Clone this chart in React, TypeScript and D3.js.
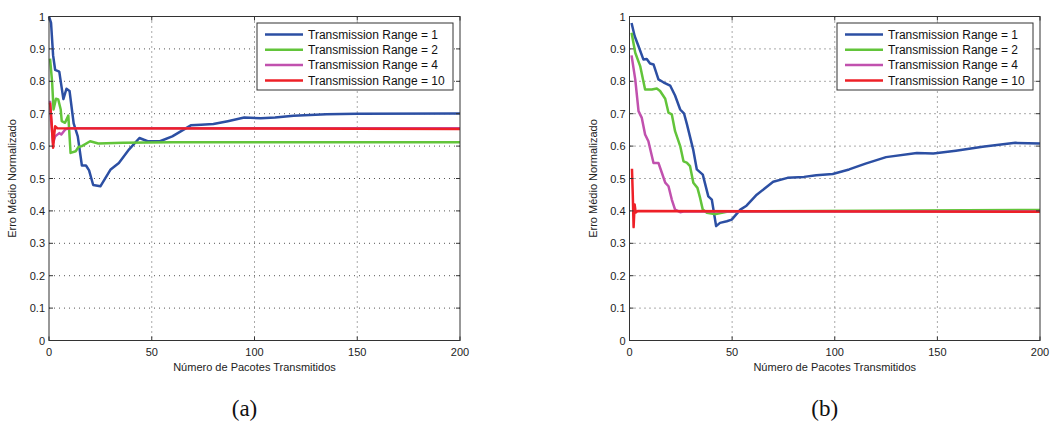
import React from "react";
import * as d3 from "d3";

type Pt = [number, number];

// x ticks / y ticks
const xTicks = [0, 50, 100, 150, 200];
const yTicks = [0, 0.1, 0.2, 0.3, 0.4, 0.5, 0.6, 0.7, 0.8, 0.9, 1];

const seriesNames = [
  "Transmission Range = 1",
  "Transmission Range = 2",
  "Transmission Range = 4",
  "Transmission Range = 10",
];
const seriesColors = ["#2c4fa3", "#62c43a", "#c151ae", "#ee2027"];

// painel (a)
const aRange1: Pt[] = [[0, 1.0], [1, 0.98], [2, 0.88], [3, 0.835], [5, 0.83], [7, 0.745], [8.5, 0.777], [10, 0.77], [12, 0.67], [14, 0.63], [16, 0.54], [18, 0.54], [19.5, 0.525], [21.5, 0.48], [25, 0.476], [30, 0.528], [34, 0.548], [39, 0.59], [44, 0.625], [48, 0.615], [54, 0.615], [60, 0.63], [69, 0.664], [74, 0.666], [80, 0.668], [87, 0.677], [95, 0.688], [103, 0.686], [110, 0.688], [119, 0.694], [135, 0.698], [150, 0.7], [200, 0.701]];
const aRange2: Pt[] = [[0.5, 0.87], [1.5, 0.8], [2.2, 0.713], [3.4, 0.746], [4.5, 0.744], [5.7, 0.713], [6.2, 0.677], [7.8, 0.672], [9.4, 0.694], [10.5, 0.579], [13, 0.584], [14.3, 0.597], [16, 0.6], [20, 0.615], [24, 0.608], [36, 0.61], [60, 0.612], [200, 0.612]];
const aRange4: Pt[] = [[0.5, 0.74], [1, 0.68], [2, 0.61], [3, 0.63], [5, 0.64], [6, 0.636], [8, 0.652], [10, 0.655], [200, 0.655]];
const aRange10: Pt[] = [[0.5, 0.734], [1.2, 0.68], [2, 0.595], [2.6, 0.64], [3, 0.661], [4, 0.655], [200, 0.653]];

// painel (b)
const bRange1: Pt[] = [[1, 0.98], [2.5, 0.94], [4.4, 0.908], [6.8, 0.867], [8.4, 0.869], [10, 0.855], [11.7, 0.852], [14.1, 0.806], [16.5, 0.797], [19.8, 0.787], [22.2, 0.756], [24.7, 0.713], [26.6, 0.7], [28, 0.667], [31, 0.59], [32.8, 0.528], [35.7, 0.512], [38.4, 0.445], [40.1, 0.435], [42.2, 0.353], [44.1, 0.363], [47.4, 0.368], [49.8, 0.373], [54, 0.404], [57, 0.416], [62, 0.45], [66, 0.47], [70, 0.49], [77, 0.502], [85, 0.505], [91, 0.51], [99, 0.514], [107, 0.528], [115, 0.546], [125, 0.566], [140, 0.579], [148, 0.577], [159, 0.586], [172, 0.598], [188, 0.61], [200, 0.608]];
const bRange2: Pt[] = [[1, 0.95], [2.8, 0.888], [5.2, 0.847], [7.6, 0.775], [10.9, 0.775], [13.3, 0.778], [14.9, 0.77], [17.4, 0.746], [19, 0.703], [20.6, 0.698], [22.2, 0.646], [24.7, 0.6], [26.3, 0.553], [27.9, 0.549], [29.5, 0.538], [31.1, 0.487], [33.1, 0.471], [34.4, 0.44], [35.7, 0.404], [37.7, 0.394], [42, 0.39], [48, 0.398], [200, 0.403]];
const bRange4: Pt[] = [[1, 0.88], [2.8, 0.806], [4.4, 0.708], [6, 0.687], [7.6, 0.636], [9.2, 0.615], [11.7, 0.548], [14.1, 0.548], [15.8, 0.517], [17.4, 0.487], [19, 0.476], [20.6, 0.435], [22.2, 0.404], [24.7, 0.396], [26.3, 0.398], [200, 0.398]];
const bRange10: Pt[] = [[1.2, 0.53], [1.6, 0.45], [2, 0.35], [2.5, 0.42], [3, 0.395], [4, 0.4], [200, 0.397]];

const FONT = "'Liberation Sans', Arial, sans-serif";

const Panel = ({ x0, x1, series, caption }: { x0: number; x1: number; series: Pt[][]; caption: string }) => {
  const top = 16.5;
  const bottom = 340.5;
  const x = d3.scaleLinear().domain([0, 200]).range([x0, x1]);
  const y = d3.scaleLinear().domain([0, 1]).range([bottom, top]);
  const line = d3.line<Pt>().x(d => x(d[0])).y(d => y(d[1]));
  const mid = (x0 + x1) / 2;
  const lgX = x1 - 203;
  const lgY = 23;

  return (
    <g>
      {/* grade pontilhada */}
      {xTicks.slice(1, -1).map(t => (
        <line key={"gx" + t} x1={x(t)} x2={x(t)} y1={top} y2={bottom} stroke="#555" strokeWidth={1} strokeDasharray="1 4" />
      ))}
      {yTicks.slice(1, -1).map(t => (
        <line key={"gy" + t} x1={x0} x2={x1} y1={y(t)} y2={y(t)} stroke="#555" strokeWidth={1} strokeDasharray="1 4" />
      ))}

      {/* curvas */}
      {series.map((s, i) => (
        <path key={i} d={line(s) || ""} fill="none" stroke={seriesColors[i]} strokeWidth={2.5} strokeLinejoin="round" />
      ))}

      {/* caixa e ticks */}
      <rect x={x0} y={top} width={x1 - x0} height={bottom - top} fill="none" stroke="#333" strokeWidth={1} />
      {xTicks.map(t => (
        <g key={"tx" + t}>
          <line x1={x(t)} x2={x(t)} y1={bottom} y2={bottom - 4} stroke="#333" />
          <line x1={x(t)} x2={x(t)} y1={top} y2={top + 4} stroke="#333" />
          <text x={x(t)} y={356} textAnchor="middle" fontSize={11} fontFamily={FONT} fill="#222">{t}</text>
        </g>
      ))}
      {yTicks.map(t => (
        <g key={"ty" + t}>
          <line x1={x0} x2={x0 + 4} y1={y(t)} y2={y(t)} stroke="#333" />
          <line x1={x1} x2={x1 - 4} y1={y(t)} y2={y(t)} stroke="#333" />
          <text x={x0 - 4} y={y(t) + 4} textAnchor="end" fontSize={11} fontFamily={FONT} fill="#222">{String(+t.toFixed(1))}</text>
        </g>
      ))}

      {/* rótulos */}
      <text x={mid} y={371} textAnchor="middle" fontSize={11} fontFamily={FONT} fill="#222">Número de Pacotes Transmitidos</text>
      <text transform={`translate(${x0 - 33},${(top + bottom) / 2}) rotate(-90)`} textAnchor="middle" fontSize={11} fontFamily={FONT} fill="#222">Erro Médio Normalizado</text>

      {/* legenda */}
      <rect x={lgX} y={lgY} width={196} height={67} fill="#fff" stroke="#333" strokeWidth={1} />
      {seriesNames.map((n, i) => (
        <g key={n}>
          <line x1={lgX + 8} x2={lgX + 46} y1={lgY + 11.5 + i * 15.3} y2={lgY + 11.5 + i * 15.3} stroke={seriesColors[i]} strokeWidth={2.5} />
          <text x={lgX + 51} y={lgY + 15.8 + i * 15.3} fontSize={12} fontFamily={FONT} fill="#111">{n}</text>
        </g>
      ))}

      <text x={mid - 10} y={416} textAnchor="middle" fontSize={23} fontFamily="'Liberation Serif', serif" fill="#111">{caption}</text>
    </g>
  );
};

export default function App() {
  return (
    <svg width={1053} height={426} style={{ position: "absolute", left: 0, top: 0, background: "#fff" }}>
      <Panel x0={49} x1={460} series={[aRange1, aRange2, aRange4, aRange10]} caption="(a)" />
      <Panel x0={629.5} x1={1040} series={[bRange1, bRange2, bRange4, bRange10]} caption="(b)" />
    </svg>
  );
}
